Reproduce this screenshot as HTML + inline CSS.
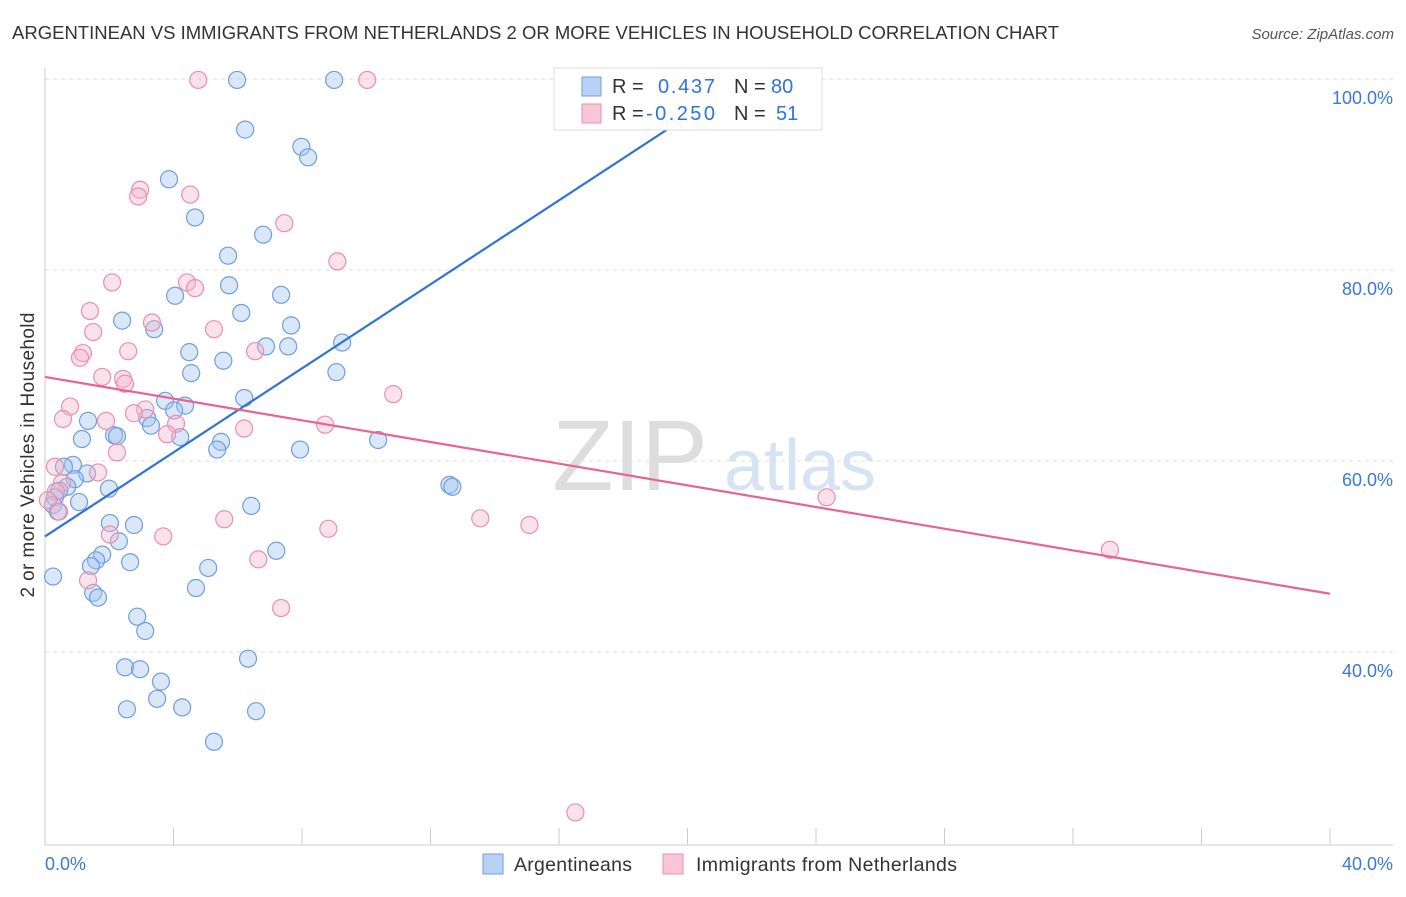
<!DOCTYPE html>
<html><head><meta charset="utf-8">
<style>
body{margin:0;background:#fff;font-family:"Liberation Sans",sans-serif;}
svg text{font-family:"Liberation Sans",sans-serif;}
</style></head>
<body>
<svg id="chart" width="1406" height="892" viewBox="0 0 1406 892" xmlns="http://www.w3.org/2000/svg">
<text x="12" y="39" font-size="18.5" fill="#333" textLength="1047" lengthAdjust="spacingAndGlyphs">ARGENTINEAN VS IMMIGRANTS FROM NETHERLANDS 2 OR MORE VEHICLES IN HOUSEHOLD CORRELATION CHART</text>
<text x="1394" y="39" font-size="15" fill="#555" font-style="italic" text-anchor="end">Source: ZipAtlas.com</text>
<text x="630" y="490" font-size="100" fill="#ddd" font-family="Liberation Serif" text-anchor="middle">ZIP</text>
<text x="800" y="490" font-size="72" fill="#d5e3f5" text-anchor="middle">atlas</text>
<text transform="translate(34,455) rotate(-90)" font-size="19" fill="#333" text-anchor="middle" textLength="285">2 or more Vehicles in Household</text>
<g id="grid"></g><g id="axes"></g><g id="pts"></g><g id="lines"></g>
<g>
<rect x="554" y="68" width="268" height="62" fill="#fff" stroke="#ddd"/>
<rect x="582" y="77" width="19" height="19" fill="#b8d2f5" stroke="#6f9ee0"/>
<rect x="582" y="104" width="19" height="19" fill="#f8c6d5" stroke="#e890ae"/>
<text x="612" y="93" font-size="20" fill="#333">R =</text>
<text x="658" y="93" font-size="20" fill="#2f73d8" textLength="57">0.437</text>
<text x="734" y="93" font-size="20" fill="#333">N =</text>
<text x="771" y="93" font-size="20" fill="#2f73d8">80</text>
<text x="612" y="120" font-size="20" fill="#333">R =</text>
<text x="646" y="120" font-size="20" fill="#2f73d8" textLength="69">-0.250</text>
<text x="734" y="120" font-size="20" fill="#333">N =</text>
<text x="776" y="120" font-size="20" fill="#2f73d8">51</text>
</g>
<g>
<rect x="483" y="854" width="20" height="20" fill="#b8d2f5" stroke="#6f9ee0"/>
<text x="514" y="871" font-size="19.5" fill="#333" textLength="118">Argentineans</text>
<rect x="663" y="854" width="20" height="20" fill="#f8c6d5" stroke="#e890ae"/>
<text x="696" y="871" font-size="19.5" fill="#333" textLength="261">Immigrants from Netherlands</text>
</g>
</svg>
<script>
const yTicks=[100,80,60,40];
const yTickLabels=["100.0%","80.0%","60.0%","40.0%"];
const xTicks=[0,4,8,12,16,20,24,28,32,36,40];
const blueX=[5.98,9.0,6.23,7.98,8.19,3.86,4.67,6.79,5.70,4.05,5.73,7.35,6.11,2.40,3.40,7.66,6.88,7.57,9.25,4.49,5.55,4.55,9.07,6.20,3.74,4.36,4.02,1.34,3.18,3.30,2.15,2.24,1.15,4.21,5.48,5.36,7.94,10.37,0.87,0.59,1.31,0.93,0.69,1.99,12.59,12.68,0.44,0.31,1.06,0.25,0.40,6.42,2.02,2.77,2.30,1.78,7.20,2.65,1.59,1.43,5.08,0.25,1.50,1.65,4.70,2.87,3.12,6.32,2.49,2.96,3.61,3.49,4.27,2.55,6.57,5.26];
const blueY=[99.9,99.9,94.7,92.9,91.8,89.5,85.5,83.7,81.5,77.3,78.4,77.4,75.5,74.7,73.8,74.2,72.0,72.0,72.4,71.4,70.5,69.2,69.3,66.6,66.3,65.8,65.3,64.2,64.5,63.7,62.7,62.6,62.3,62.5,62.0,61.2,61.2,62.2,59.6,59.4,58.7,58.1,57.3,57.1,57.5,57.3,56.9,56.2,55.7,55.4,54.7,55.3,53.5,53.3,51.6,50.2,50.6,49.4,49.6,49.0,48.8,47.9,46.2,45.7,46.7,43.7,42.2,39.3,38.4,38.2,36.9,35.1,34.2,34.0,33.8,30.6];
const pinkX=[4.77,10.03,2.96,2.90,4.52,7.45,9.10,2.09,4.42,4.67,1.40,3.33,1.50,5.26,2.59,6.54,1.18,1.09,1.78,2.43,2.49,10.84,0.78,3.12,2.77,0.56,1.90,4.08,3.80,6.20,8.72,2.24,0.31,1.65,0.53,0.34,0.09,24.33,0.44,13.55,15.08,5.58,8.82,2.02,3.68,6.64,33.15,1.34,7.35,16.51];
const pinkY=[99.9,99.9,88.4,87.7,87.9,84.9,80.9,78.7,78.7,78.1,75.7,74.5,73.5,73.8,71.5,71.5,71.3,70.8,68.8,68.6,68.1,67.0,65.7,65.4,65.0,64.4,64.2,63.9,62.8,63.4,63.8,60.9,59.4,58.8,57.7,56.8,55.9,56.2,54.7,54.0,53.3,53.9,52.9,52.3,52.1,49.7,50.7,47.5,44.6,23.2];
const blueTrend=[[0,52.1],[21.0,98.3]];
const pinkTrend=[[0,68.8],[40,46.1]];
const NS="http://www.w3.org/2000/svg";
const X=v=>45+v*32.125, Y=v=>79+(100-v)*9.55;
function mk(t,a,p){const e=document.createElementNS(NS,t);for(const k in a)e.setAttribute(k,a[k]);p.appendChild(e);return e;}
const grid=document.getElementById('grid'),axes=document.getElementById('axes'),pts=document.getElementById('pts'),lines=document.getElementById('lines');
yTicks.forEach((v,i)=>{
 const l=mk('line',{x1:45,x2:1393,y1:Y(v),y2:Y(v),stroke:'#ddd','stroke-dasharray':'4,4'},grid);
 
 
 const t=mk('text',{x:1393,y:Y(v)+25,'font-size':18,fill:'#3b78d8','text-anchor':'end'},grid);
 t.textContent=yTickLabels[i];
 
 
});
const xa=mk('line',{x1:45,x2:1393,y1:845,y2:845,stroke:'#ccc'},axes);


const ya=mk('line',{x1:45,x2:45,y1:68,y2:845,stroke:'#ccc'},axes);


xTicks.forEach(v=>{
 const t=mk('line',{x1:X(v),x2:X(v),y1:828,y2:845,stroke:'#ccc'},axes);
 
 
});
const xl0=mk('text',{x:45,y:870,'font-size':18,fill:'#3b78d8'},axes);xl0.textContent='0.0%';


const xl1=mk('text',{x:1393,y:870,'font-size':18,fill:'#3b78d8','text-anchor':'end'},axes);xl1.textContent='40.0%';


blueX.forEach((v,i)=>{
 const c=mk('circle',{cx:X(v),cy:Y(blueY[i]),r:8.5,fill:'rgba(160,195,240,0.4)',stroke:'#6f9ee0','stroke-width':1.2},pts);
 
 
});
pinkX.forEach((v,i)=>{
 const c=mk('circle',{cx:X(v),cy:Y(pinkY[i]),r:8.5,fill:'rgba(245,180,200,0.4)',stroke:'#e890ae','stroke-width':1.2},pts);
 
 
});
const bl=mk('line',{x1:X(blueTrend[0][0]),y1:Y(blueTrend[0][1]),x2:X(blueTrend[1][0]),y2:Y(blueTrend[1][1]),stroke:'#2f73d8','stroke-width':2.2},lines);


const pl=mk('line',{x1:X(pinkTrend[0][0]),y1:Y(pinkTrend[0][1]),x2:X(pinkTrend[1][0]),y2:Y(pinkTrend[1][1]),stroke:'#e8648f','stroke-width':2.2},lines);


</script>
</body></html>
